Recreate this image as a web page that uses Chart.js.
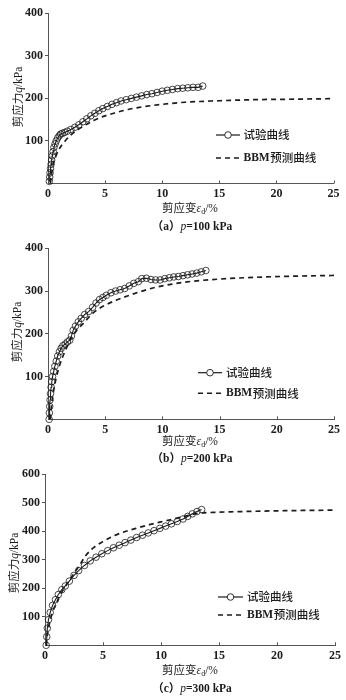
<!DOCTYPE html>
<html lang="zh">
<head>
<meta charset="utf-8">
<title>剪应力-剪应变曲线</title>
<script src="https://cdn.jsdelivr.net/npm/chart.js@4.4.1/dist/chart.umd.min.js"></script>
<style>
  html, body { margin: 0; padding: 0; background: #fff; }
  body { width: 346px; height: 700px; position: relative; overflow: hidden; }
  .panel { position: absolute; left: 0; width: 346px; }
  .panel canvas { display: block; }
  .lbl { position: absolute; transform: translate(-50%, -50%); white-space: nowrap; color: #1a1a1a;
         font-family: 'Noto Sans CJK SC', sans-serif; font-size: 11.5px; line-height: 1; }
  .lbl i, .lbl .ser { font-family: 'Liberation Serif', serif; }
  .lbl sub { font-family: 'Liberation Serif', serif; font-size: 8px; vertical-align: -2px; }
  .ytitle { transform: translate(-50%, -50%) rotate(-90deg); }
  .cap { font-family: 'Liberation Serif', 'Noto Sans CJK SC', serif; font-weight: bold; font-size: 11.5px; }
  .cap i { font-weight: normal; }
</style>
</head>
<body>

<div class="panel" style="top:0;height:233px"><canvas id="chartA" width="346" height="233"></canvas></div>
<div class="panel" style="top:233px;height:232px"><canvas id="chartB" width="346" height="232"></canvas></div>
<div class="panel" style="top:465px;height:235px"><canvas id="chartC" width="346" height="235"></canvas></div>

<div class="lbl ytitle" style="left:18px;top:97px">剪应力<i>q</i><span class="ser">/kPa</span></div>
<div class="lbl" style="left:190px;top:209px">剪应变<i>ε</i><sub>d</sub><span class="ser">/%</span></div>
<div class="lbl cap" style="left:192px;top:227px">（a）<i>p</i>=100 kPa</div>

<div class="lbl ytitle" style="left:17px;top:332px">剪应力<i>q</i><span class="ser">/kPa</span></div>
<div class="lbl" style="left:190px;top:442px">剪应变<i>ε</i><sub>d</sub><span class="ser">/%</span></div>
<div class="lbl cap" style="left:192px;top:459px">（b）<i>p</i>=200 kPa</div>

<div class="lbl ytitle" style="left:14px;top:563px">剪应力<i>q</i><span class="ser">/kPa</span></div>
<div class="lbl" style="left:190px;top:671px">剪应变<i>ε</i><sub>d</sub><span class="ser">/%</span></div>
<div class="lbl cap" style="left:192px;top:689px">（c）<i>p</i>=300 kPa</div>

<script>
// ---- Test data and BBM predictions (shear strain εd in %, shear stress q in kPa) ----

// (a) p = 100 kPa
const testStrainA = [0.12,0.15,0.18,0.22,0.27,0.32,0.38,0.45,0.52,0.62,0.72,0.85,0.98,1.1,1.25,1.45,1.7,2.0,2.35,2.7,3.05,3.4,3.75,4.1,4.45,4.8,5.2,5.6,6.0,6.4,6.85,7.3,7.75,8.2,8.65,9.1,9.55,10.0,10.45,10.9,11.35,11.8,12.25,12.7,13.15,13.55];
const testStressA = [5,15,25,35,45,55,65,75,85,93,100,107,112,116,118,120,123,127,132,138,145,152,159,165,171,176,181,186,190,194,197,200,203,206,209,211,214,217,219,221,223,224,225,226,226,229];
const bbmStrainA  = [0.2,0.3,0.45,0.7,1.0,1.5,2.0,3.0,4.0,5.0,6.0,7.0,8.0,10.0,12.0,15.0,18.0,21.0,25.0];
const bbmStressA  = [0,20,45,65,82,100,114,133,148,159,167,174,179,186,191,194.5,197,198,199.5];

// (b) p = 200 kPa
const testStrainB = [0.1,0.12,0.15,0.18,0.22,0.27,0.33,0.4,0.5,0.6,0.72,0.85,1.0,1.15,1.3,1.5,1.7,1.9,2.05,2.2,2.4,2.65,2.9,3.2,3.55,3.9,4.2,4.5,4.8,5.1,5.5,5.9,6.3,6.7,7.1,7.5,7.9,8.2,8.6,9.0,9.4,9.8,10.2,10.6,11.0,11.4,11.8,12.2,12.6,13.0,13.4,13.8];
const testStressB = [0,15,30,45,60,75,88,100,112,124,136,148,158,166,172,176,181,185,195,208,218,228,236,245,252,262,272,280,285,290,296,300,303,306,312,318,322,329,330,327,326,326,329,331,333,334,336,338,340,342,345,348];
const bbmStrainB  = [0.2,0.3,0.45,0.7,1.0,1.5,2.0,2.5,3.0,4.0,5.0,6.0,7.0,8.0,9.0,10.0,12.0,15.0,18.0,21.0,25.0];
const bbmStressB  = [0,30,60,95,125,160,188,208,222,250,267,279,289,298,306,312,321,328,332,334.5,336.5];

// (c) p = 300 kPa
const testStrainC = [0.1,0.15,0.2,0.3,0.45,0.65,0.9,1.15,1.45,1.75,2.1,2.5,2.9,3.4,3.9,4.4,4.9,5.4,5.9,6.4,6.9,7.4,7.9,8.4,8.9,9.4,9.9,10.4,10.9,11.4,11.9,12.3,12.7,13.1,13.5];
const testStressC = [0,30,60,90,115,140,160,178,195,208,225,245,262,280,296,309,321,332,342,351,360,369,378,386,394,402,410,418,426,434,443,452,461,469,476];
const bbmStrainC  = [0.1,0.2,0.35,0.6,1.0,1.5,2.0,2.5,3.0,3.5,4.0,4.5,5.0,6.0,7.0,8.0,9.0,10.0,11.0,12.0,12.8,13.5,14.5,16.0,18.0,20.0,22.5,25.0];
const bbmStressC  = [0,35,70,110,150,190,222,252,282,314,336,352,364,385,400,412,423,433,442,452,460,464,466,468,470,471.5,473,474];

// Axis tick layout
const strainTicks = [0, 5, 10, 15, 20, 25];
const yMaxAB = 400, yMaxC = 600, yStep = 100;

const LEGEND_TEST = '试验曲线';
const LEGEND_BBM_CODE = 'BBM';
const LEGEND_BBM_REST = '预测曲线';

const INK = '#1c1c1c';
const AXIS = '#555';
const TICK_FONT = { family: "'Liberation Serif', 'Times New Roman', serif", size: 12, weight: 'bold' };

const pairs = (xs, ys) => xs.map((x, i) => ({ x, y: ys[i] }));

// Short x-axis tick marks pointing into the plot area
const innerTicks = {
  id: 'innerTicks',
  afterDraw(chart) {
    const { ctx, chartArea } = chart;
    const xs = chart.scales.x;
    ctx.save();
    ctx.strokeStyle = AXIS;
    ctx.lineWidth = 1;
    xs.ticks.forEach(t => {
      if (t.value === 0) return;
      const px = Math.round(xs.getPixelForValue(t.value)) + 0.5;
      ctx.beginPath();
      ctx.moveTo(px, chartArea.bottom);
      ctx.lineTo(px, chartArea.bottom - 3);
      ctx.stroke();
    });
    ctx.restore();
  }
};

// In-plot legend: solid line with a circle marker, and a dashed line
const inPlotLegend = {
  id: 'inPlotLegend',
  afterDraw(chart, args, opts) {
    const { ctx } = chart;
    const { x0, x1, y1, y2, textX } = opts;
    ctx.save();
    ctx.strokeStyle = INK;
    // test curve sample
    ctx.lineWidth = 1.2;
    ctx.setLineDash([]);
    ctx.beginPath(); ctx.moveTo(x0, y1); ctx.lineTo(x1, y1); ctx.stroke();
    ctx.lineWidth = 0.9;
    ctx.beginPath(); ctx.arc((x0 + x1) / 2, y1, 3.3, 0, Math.PI * 2);
    ctx.fillStyle = '#fff'; ctx.fill(); ctx.stroke();
    // BBM curve sample
    ctx.lineWidth = 1.6;
    ctx.setLineDash([5, 4]);
    ctx.beginPath(); ctx.moveTo(x0, y2); ctx.lineTo(x1, y2); ctx.stroke();
    ctx.setLineDash([]);
    // labels
    ctx.fillStyle = INK;
    ctx.textBaseline = 'middle';
    ctx.textAlign = 'left';
    ctx.font = "500 11.5px 'Noto Sans CJK SC', sans-serif";
    ctx.fillText(LEGEND_TEST, textX, y1);
    ctx.font = "bold 11.5px 'Liberation Serif', serif";
    ctx.fillText(LEGEND_BBM_CODE, textX, y2);
    const w = ctx.measureText(LEGEND_BBM_CODE).width;
    ctx.font = "500 11.5px 'Noto Sans CJK SC', sans-serif";
    ctx.fillText(LEGEND_BBM_REST, textX + w + 0.5, y2);
    ctx.restore();
  }
};

function buildChart(id, test, bbm, yMax, area, legend) {
  const canvas = document.getElementById(id);
  const H = canvas.height;
  const xAxisH = 20;
  return new Chart(canvas, {
    type: 'line',
    data: {
      datasets: [
        {
          label: LEGEND_TEST,
          data: test,
          borderColor: INK,
          borderWidth: 1.1,
          pointRadius: 3.3,
          pointBorderWidth: 0.8,
          pointBorderColor: INK,
          pointBackgroundColor: 'rgba(255,255,255,0)',
          tension: 0,
          clip: 6,
          order: 1
        },
        {
          label: LEGEND_BBM_CODE + LEGEND_BBM_REST,
          data: bbm,
          borderColor: INK,
          borderWidth: 1.7,
          borderDash: [5, 4],
          pointRadius: 0,
          cubicInterpolationMode: 'monotone',
          clip: 2,
          order: 2
        }
      ]
    },
    options: {
      responsive: false,
      animation: false,
      devicePixelRatio: 1,
      layout: {
        padding: { left: 0, top: area.t, right: 346 - area.r, bottom: H - area.b - xAxisH }
      },
      plugins: {
        legend: { display: false },
        tooltip: { enabled: false },
        inPlotLegend: legend
      },
      scales: {
        x: {
          type: 'linear',
          min: 0, max: 25,
          afterFit(s) { s.height = xAxisH; },
          afterBuildTicks(s) { s.ticks = strainTicks.map(v => ({ value: v })); },
          border: { display: true, color: AXIS, width: 1 },
          grid: { display: true, drawOnChartArea: false, drawTicks: false },
          ticks: { color: INK, font: TICK_FONT, padding: 3, maxRotation: 0 }
        },
        y: {
          type: 'linear',
          min: 0, max: yMax,
          afterFit(s) { s.width = area.l; },
          border: { display: true, color: AXIS, width: 1 },
          grid: {
            drawOnChartArea: false, drawTicks: true, tickLength: 3,
            color: c => (c.tick && c.tick.value === 0) ? 'rgba(0,0,0,0)' : AXIS
          },
          ticks: {
            stepSize: yStep, color: INK, font: TICK_FONT, padding: 2,
            callback: v => (v === 0 ? '' : v)
          }
        }
      }
    },
    plugins: [innerTicks, inPlotLegend]
  });
}

buildChart('chartA', pairs(testStrainA, testStressA), pairs(bbmStrainA, bbmStressA), yMaxAB,
  { l: 48, r: 333.5, t: 13.3, b: 183.5 },
  { x0: 216, x1: 240, y1: 135, y2: 158, textX: 243.5 });

buildChart('chartB', pairs(testStrainB, testStressB), pairs(bbmStrainB, bbmStressB), yMaxAB,
  { l: 48, r: 334, t: 15.3, b: 186.3 },
  { x0: 198, x1: 222, y1: 139.7, y2: 160.3, textX: 226 });

buildChart('chartC', pairs(testStrainC, testStressC), pairs(bbmStrainC, bbmStressC), yMaxC,
  { l: 45, r: 335, t: 9, b: 180.3 },
  { x0: 218, x1: 243, y1: 132, y2: 150, textX: 247 });
</script>
</body>
</html>
